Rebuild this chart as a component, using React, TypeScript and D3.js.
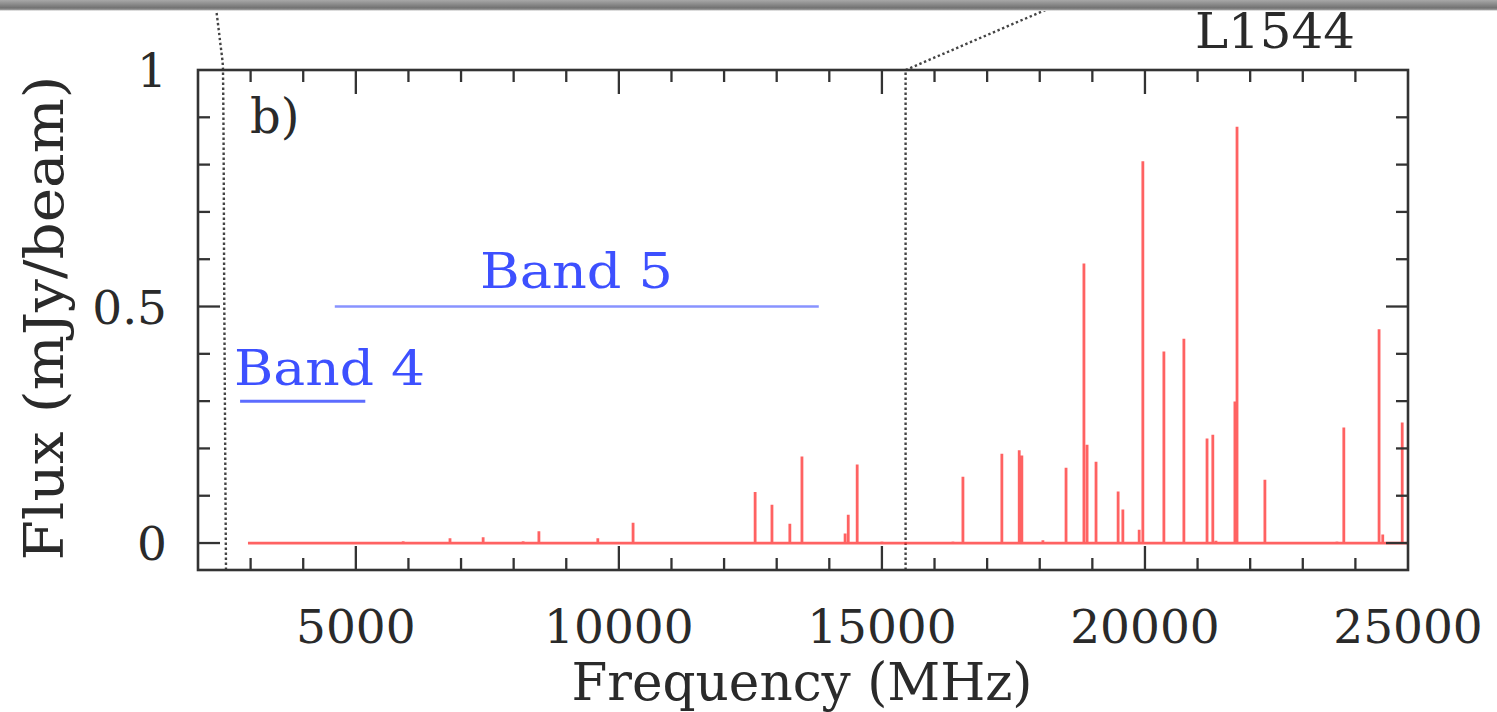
import React, { useRef, useEffect } from "react";
import * as d3 from "d3";

// line spectrum: [frequency MHz, flux mJy/beam]
const lineFreqs = [5900, 6790, 7420, 8180, 8480, 9600, 10270, 12590, 12910, 13250, 13480, 14300, 14360, 14530, 15000, 16350, 16540, 17280, 17610, 17660, 18060, 18500, 18840, 18900, 19070, 19490, 19580, 19890, 19960, 20360, 20740, 21180, 21290, 21350, 21710, 21750, 22280, 23650, 23780, 24450, 24520, 24890];
const lineFlux = [0.004, 0.01, 0.012, 0.004, 0.025, 0.01, 0.043, 0.108, 0.081, 0.041, 0.183, 0.02, 0.06, 0.166, 0.003, 0.003, 0.14, 0.189, 0.196, 0.185, 0.006, 0.159, 0.591, 0.208, 0.172, 0.109, 0.071, 0.028, 0.807, 0.405, 0.432, 0.221, 0.229, 0.005, 0.299, 0.88, 0.134, 0.003, 0.244, 0.452, 0.018, 0.255];
const spectrumRange = [2950, 25000];

// SKA bands: [label, start MHz, end MHz, level]
const bands: [string, number, number, number][] = [
  ["Band 5", 4600, 13800, 0.5],
  ["Band 4", 2800, 5180, 0.3],
];

const xTicks = [5000, 10000, 15000, 20000, 25000];
const yTicks = [0, 0.5, 1];

// dotted guide lines coming from the panel above, [MHz, flux]
const leftGuide: [number, number][] = [[2532, -0.057], [2500, 0.5], [2475, 1.0], [2420, 1.06], [2342, 1.131]];
const rightGuide: [number, number][] = [[15450, -0.057], [15450, 1.0], [18195, 1.131]];

export default function App() {
  const svgRef = useRef<SVGSVGElement>(null);

  useEffect(() => {
    const W = 1497, H = 712;
    const svg = d3.select(svgRef.current);
    svg.selectAll("*").remove();
    svg.attr("width", W).attr("height", H);

    const x = d3.scaleLinear().domain([2000, 25000]).range([198, 1408]);
    const y = d3.scaleLinear().domain([-0.057, 1]).range([570, 70]);
    const font = "DejaVu Serif";
    const ink = "#2a2a2a";

    // gray bar at top
    const defs = svg.append("defs");
    const grad = defs.append("linearGradient").attr("id", "bar").attr("x1", 0).attr("x2", 0).attr("y1", 0).attr("y2", 1);
    grad.append("stop").attr("offset", "0%").attr("stop-color", "#a8a8a8");
    grad.append("stop").attr("offset", "70%").attr("stop-color", "#737373");
    grad.append("stop").attr("offset", "85%").attr("stop-color", "#8a8a8a");
    grad.append("stop").attr("offset", "100%").attr("stop-color", "#ffffff");

    // guides
    const straight = d3.line<[number, number]>().x(d => x(d[0])).y(d => y(d[1]));
    const curved = d3.line<[number, number]>().x(d => x(d[0])).y(d => y(d[1])).curve(d3.curveMonotoneY);
    [leftGuide, rightGuide].forEach((g, i) => {
      svg.append("path")
        .attr("d", i === 0 ? curved(g) : straight(g))
        .attr("fill", "none").attr("stroke", "#444").attr("stroke-width", 2.4)
        .attr("stroke-dasharray", "2.4,2.6");
    });

    svg.append("rect").attr("x", 0).attr("y", 0).attr("width", W).attr("height", 11).attr("fill", "url(#bar)");

    // spectrum
    const pts: [number, number][] = [[spectrumRange[0], 0]];
    lineFreqs.forEach((f, i) => {
      pts.push([f, 0], [f, lineFlux[i]], [f, 0]);
    });
    pts.push([spectrumRange[1], 0]);
    svg.append("path")
      .attr("d", straight(pts))
      .attr("fill", "none").attr("stroke", "#ff2626").attr("stroke-opacity", 0.72)
      .attr("stroke-width", 2.8).attr("stroke-linejoin", "miter");

    // bands
    bands.forEach(([label, a, b, lvl], i) => {
      svg.append("line")
        .attr("x1", x(a)).attr("x2", x(b)).attr("y1", y(lvl)).attr("y2", y(lvl))
        .attr("stroke", i === 0 ? "#8893ff" : "#5c6cff").attr("stroke-width", i === 0 ? 2.5 : 3);
    });
    svg.append("text").attr("x", 480).attr("y", 288).text(bands[0][0])
      .attr("font-family", font).attr("font-size", 48).attr("fill", "#3d50ff")
      .attr("textLength", 193).attr("lengthAdjust", "spacingAndGlyphs");
    svg.append("text").attr("x", 234).attr("y", 385).text(bands[1][0])
      .attr("font-family", font).attr("font-size", 48).attr("fill", "#3d50ff")
      .attr("textLength", 191).attr("lengthAdjust", "spacingAndGlyphs");

    // frame
    svg.append("rect").attr("x", 198).attr("y", 70).attr("width", 1210).attr("height", 500)
      .attr("fill", "none").attr("stroke", "#333").attr("stroke-width", 2.6);

    const tk = svg.append("g").attr("stroke", "#333").attr("stroke-width", 2.3);
    d3.range(3000, 25000, 1000).forEach(v => {
      const major = v % 5000 === 0;
      const len = major ? 24 : 12;
      tk.append("line").attr("x1", x(v)).attr("x2", x(v)).attr("y1", 570).attr("y2", 570 - len);
      tk.append("line").attr("x1", x(v)).attr("x2", x(v)).attr("y1", 70).attr("y2", 70 + len);
    });
    d3.range(0, 10).forEach(k => {
      const v = k / 10;
      const major = k === 0 || k === 5;
      const len = major ? 22 : 12;
      tk.append("line").attr("x1", 198).attr("x2", 198 + len).attr("y1", y(v)).attr("y2", y(v));
      tk.append("line").attr("x1", 1408).attr("x2", 1408 - len).attr("y1", y(v)).attr("y2", y(v));
    });

    // tick labels
    svg.selectAll(".xl").data(xTicks).enter().append("text")
      .attr("x", d => x(d)).attr("y", 643).attr("text-anchor", "middle")
      .attr("font-family", font).attr("font-size", 47).attr("fill", ink).text(d => d);
    svg.selectAll(".yl").data(yTicks).enter().append("text")
      .attr("x", 167).attr("y", d => y(d) + 17).attr("text-anchor", "end")
      .attr("font-family", font).attr("font-size", 47).attr("fill", ink).text(d => d);

    // titles
    svg.append("text").attr("x", 802).attr("y", 700).attr("text-anchor", "middle")
      .attr("font-family", font).attr("font-size", 52).attr("fill", ink)
      .attr("textLength", 461).attr("lengthAdjust", "spacingAndGlyphs")
      .text("Frequency (MHz)");
    svg.append("text").attr("transform", "translate(63,318) rotate(-90)").attr("text-anchor", "middle")
      .attr("font-family", font).attr("font-size", 54).attr("fill", ink)
      .attr("textLength", 485).attr("lengthAdjust", "spacingAndGlyphs")
      .text("Flux (mJy/beam)");

    svg.append("text").attr("x", 250).attr("y", 133)
      .attr("font-family", font).attr("font-size", 48).attr("fill", ink).text("b)");
    svg.append("text").attr("x", 1195).attr("y", 48)
      .attr("font-family", font).attr("font-size", 48).attr("fill", ink)
      .attr("textLength", 160).attr("lengthAdjust", "spacingAndGlyphs").text("L1544");
  }, []);

  return (
    <div>
      <svg ref={svgRef} style={{ position: "absolute", left: 0, top: 0, background: "#fff" }}></svg>
    </div>
  );
}
